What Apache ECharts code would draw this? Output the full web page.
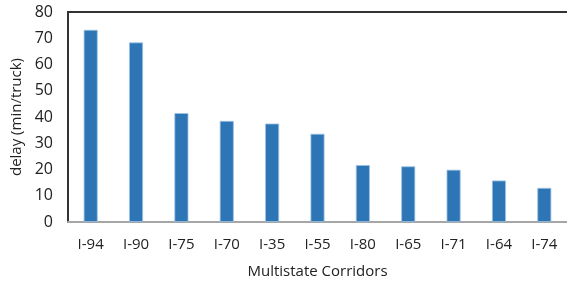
<!DOCTYPE html>
<html>
<head>
<meta charset="utf-8">
<script src="https://cdn.jsdelivr.net/npm/echarts@6/dist/echarts.min.js"></script>
<style>
  html, body { margin: 0; padding: 0; background: #fff; }
  #chart { width: 567px; height: 285px; }
</style>
</head>
<body>
<div id="chart"></div>
<script>
const corridors = ['I-94', 'I-90', 'I-75', 'I-70', 'I-35', 'I-55', 'I-80', 'I-65', 'I-71', 'I-64', 'I-74'];
const delays = [73.2, 68.4, 41.5, 38.5, 37.5, 33.6, 21.7, 21.2, 19.9, 15.8, 13.0];
const yTicks = { min: 0, max: 80, interval: 10 };

const chart = echarts.init(document.getElementById('chart'), null, { renderer: 'canvas' });
const font = '"Open Sans", "Liberation Sans", sans-serif';

chart.setOption({
  animation: false,
  grid: { left: 68, right: -2, top: 12, bottom: 63, containLabel: false },
  xAxis: {
    type: 'category',
    data: corridors,
    name: 'Multistate Corridors',
    nameLocation: 'middle',
    nameGap: 42,
    nameTextStyle: { color: '#222', fontSize: 15, fontFamily: font },
    axisLine: { lineStyle: { color: '#a6a6a6', width: 2 } },
    axisTick: { show: false },
    axisLabel: { color: '#222', fontSize: 15, fontFamily: font, margin: 15, interval: 0 }
  },
  yAxis: {
    type: 'value',
    min: yTicks.min,
    max: yTicks.max,
    interval: yTicks.interval,
    name: 'delay (min/truck)',
    nameLocation: 'middle',
    nameGap: 44,
    nameTextStyle: { color: '#222', fontSize: 15, fontFamily: font },
    axisLine: { show: true, lineStyle: { color: '#333', width: 2 } },
    axisTick: { show: false },
    splitLine: { show: false },
    axisLabel: { color: '#222', fontSize: 16, fontFamily: font, margin: 15 }
  },
  graphic: [{
    type: 'line',
    shape: { x1: 67, y1: 12, x2: 567, y2: 12 },
    style: { stroke: '#333', lineWidth: 2 }
  }],
  series: [{
    type: 'bar',
    data: delays,
    barWidth: 14,
    itemStyle: { color: '#2e75b6', borderColor: '#9dc3e6', borderWidth: 0.8 }
  }]
});
</script>
</body>
</html>
